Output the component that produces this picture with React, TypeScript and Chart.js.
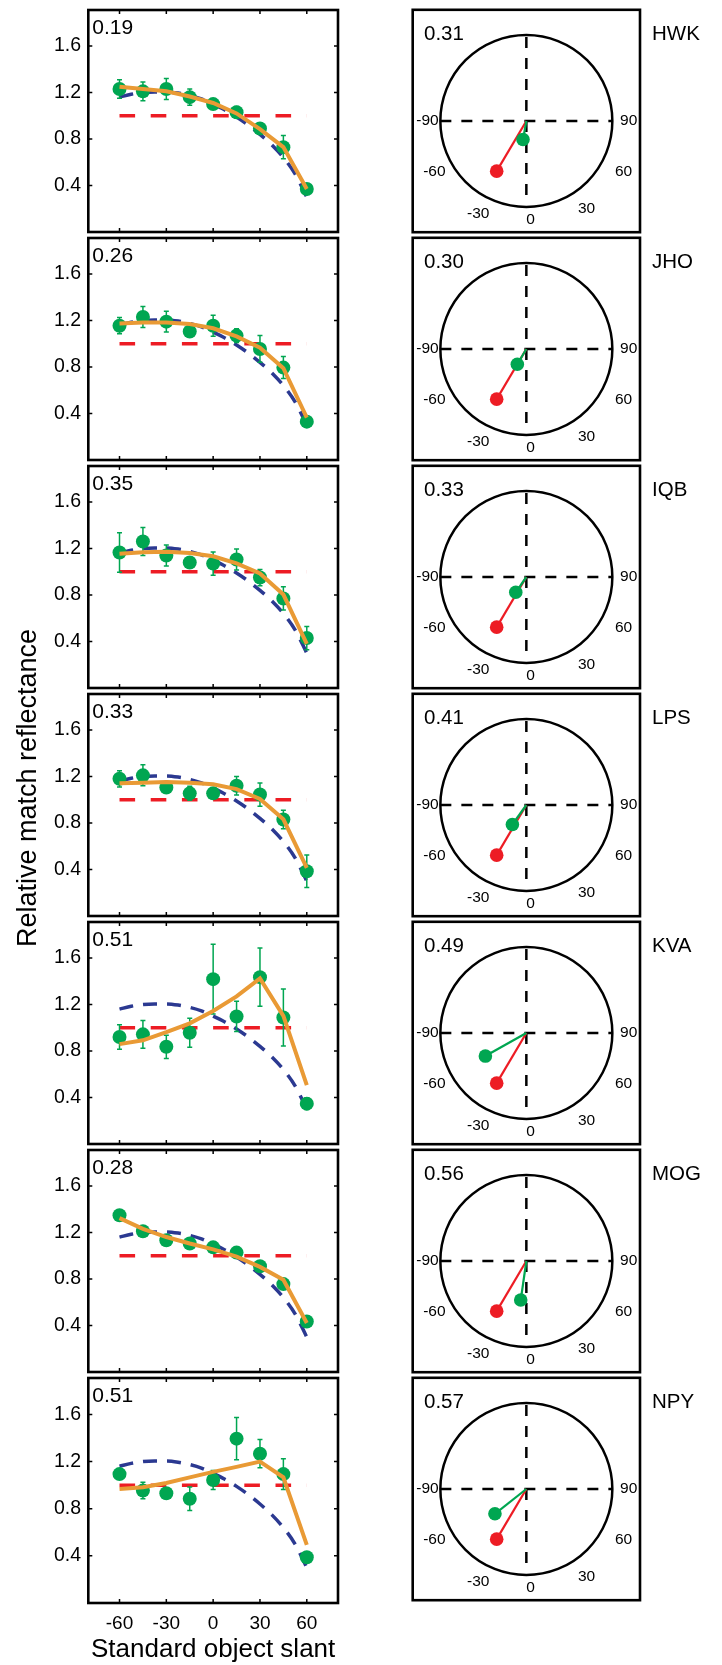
import React, { useEffect, useRef } from "react";
import { Chart, registerables } from "chart.js";

Chart.register(...registerables);

// ---------------- data ----------------
const slants = [-60, -45, -30, -15, 0, 15, 30, 45, 60];
const xTicks = [-60, -30, 0, 30, 60];
const yTicks = [0.4, 0.8, 1.2, 1.6];

const observers = ["HWK", "JHO", "IQB", "LPS", "KVA", "MOG", "NPY"];
const fitIndex = ["0.19", "0.26", "0.35", "0.33", "0.51", "0.28", "0.51"];
const lightIndex = ["0.31", "0.30", "0.33", "0.41", "0.49", "0.56", "0.57"];

// relative match reflectance (mean) and standard error per observer
const matchHWK = [1.23, 1.21, 1.23, 1.16, 1.1, 1.03, 0.89, 0.73, 0.37];
const errHWK = [0.08, 0.08, 0.09, 0.07, 0.03, 0.05, 0.04, 0.1, 0.03];
const fitHWK = [1.25, 1.23, 1.21, 1.165, 1.11, 1.02, 0.885, 0.73, 0.37];

const matchJHO = [1.155, 1.23, 1.19, 1.105, 1.155, 1.07, 0.955, 0.795, 0.33];
const errJHO = [0.07, 0.09, 0.09, 0.04, 0.09, 0.06, 0.115, 0.095, 0.03];
const fitJHO = [1.175, 1.183, 1.183, 1.17, 1.133, 1.063, 0.966, 0.79, 0.365];

const matchIQB = [1.165, 1.26, 1.14, 1.08, 1.07, 1.105, 0.95, 0.77, 0.43];
const errIQB = [0.17, 0.12, 0.09, 0.04, 0.1, 0.09, 0.07, 0.1, 0.1];
const fitIQB = [1.155, 1.167, 1.172, 1.161, 1.133, 1.072, 0.985, 0.804, 0.38];

const matchLPS = [1.18, 1.21, 1.105, 1.055, 1.055, 1.12, 1.045, 0.83, 0.385];
const errLPS = [0.07, 0.09, 0.03, 0.06, 0.03, 0.08, 0.1, 0.08, 0.14];
const fitLPS = [1.141, 1.147, 1.153, 1.147, 1.133, 1.091, 1.007, 0.832, 0.413];

const matchKVA = [0.92, 0.943, 0.836, 0.957, 1.418, 1.097, 1.435, 1.088, 0.347];
const errKVA = [0.105, 0.12, 0.1, 0.125, 0.3, 0.13, 0.25, 0.245, 0.05];
const fitKVA = [0.859, 0.892, 0.962, 1.038, 1.144, 1.27, 1.424, 1.102, 0.506];

const matchMOG = [1.348, 1.211, 1.133, 1.105, 1.072, 1.027, 0.91, 0.756, 0.435];
const errMOG = [0.02, 0.02, 0.02, 0.02, 0.02, 0.02, 0.02, 0.02, 0.02];
const fitMOG = [1.323, 1.231, 1.161, 1.105, 1.055, 0.993, 0.904, 0.793, 0.421];

const matchNPY = [1.094, 0.954, 0.932, 0.885, 1.044, 1.395, 1.267, 1.094, 0.388];
const errNPY = [0.03, 0.07, 0.03, 0.1, 0.08, 0.18, 0.12, 0.13, 0.03];
const fitNPY = [0.968, 0.982, 1.019, 1.066, 1.113, 1.155, 1.2, 1.066, 0.494];

// luminance-constancy reference and physical prediction
const constantSlants = [-60, 60];
const constantLevel = [1, 1];
const physicalSlants = [-60, -52.5, -45, -37.5, -30, -22.5, -15, -7.5, 0, 7.5, 15, 22.5, 30, 37.5, 45, 52.5, 60];
const physicalPrediction = [1.16, 1.185, 1.2, 1.205, 1.205, 1.195, 1.175, 1.145, 1.1, 1.05, 0.99, 0.92, 0.84, 0.75, 0.64, 0.5, 0.3];

// light direction: true punctate source (red) and each observer's estimate (green)
const sourceAngle = [-30, -30, -30, -30, -30, -30, -30];
const sourceStrength = [0.69, 0.69, 0.69, 0.69, 0.69, 0.69, 0.69];
const estimateAngle = [-10, -30, -34, -35, -60, -8, -51];
const estimateStrength = [0.224, 0.21, 0.22, 0.283, 0.55, 0.47, 0.47];
const angleLabels = ["-90", "-60", "-30", "0", "30", "60", "90"];

const matchSeries = [matchHWK, matchJHO, matchIQB, matchLPS, matchKVA, matchMOG, matchNPY];
const errSeries = [errHWK, errJHO, errIQB, errLPS, errKVA, errMOG, errNPY];
const fitSeries = [fitHWK, fitJHO, fitIQB, fitLPS, fitKVA, fitMOG, fitNPY];

// ---------------- styling / layout ----------------
const FONT = "'Liberation Sans', Arial, Helvetica, sans-serif";
const RED = "#ED1C24";
const BLUE = "#2B3991";
const GREEN = "#00A651";
const ORANGE = "#E99A35";

const PANEL_TOP = 7;
const PANEL_H = 228;
const PX_PER_UNIT = 119.4;
const LEFT_CANVAS_W = 345;
const LEFT_AREA_L = 88.3;
const LEFT_AREA_R = 338.3;
const RIGHT_CANVAS_X = 400;
const RIGHT_CANVAS_W = 322;
const RIGHT_AREA_L = 412.7;
const RIGHT_AREA_R = 640;
const DIAL_R = 86;

Chart.defaults.font.family = FONT;

// label anchors around the dial, in dial radii (dx right, dy down)
const angleLabelAnchors: [number, number][] = [
  [-1.15, 0],
  [-1.07, 0.6],
  [-0.56, 1.11],
  [0.05, 1.18],
  [0.7, 1.04],
  [1.13, 0.6],
  [1.19, 0],
];

function toDial(angleDeg: number, r: number) {
  const a = (angleDeg * Math.PI) / 180;
  return { x: r * Math.sin(a), y: -r * Math.cos(a) };
}

const slantPanelPlugin = {
  id: "slantPanel",
  beforeDatasetDraw(chart: any, args: any, opts: any) {
    if (args.index !== 2) return;
    const { ctx, scales } = chart;
    const { x, y } = scales;
    const vals: number[] = opts.match;
    const errs: number[] = opts.err;
    ctx.save();
    ctx.strokeStyle = GREEN;
    ctx.lineWidth = 1.5;
    slants.forEach((s, k) => {
      const px = x.getPixelForValue(s);
      const y1 = y.getPixelForValue(vals[k] - errs[k]);
      const y2 = y.getPixelForValue(vals[k] + errs[k]);
      ctx.beginPath();
      ctx.moveTo(px, y1);
      ctx.lineTo(px, y2);
      ctx.moveTo(px - 2.5, y1);
      ctx.lineTo(px + 2.5, y1);
      ctx.moveTo(px - 2.5, y2);
      ctx.lineTo(px + 2.5, y2);
      ctx.stroke();
    });
    ctx.restore();
  },
  afterDraw(chart: any, _args: any, opts: any) {
    const { ctx, chartArea: a, scales } = chart;
    const { x, y } = scales;
    ctx.save();
    ctx.strokeStyle = "#000";
    ctx.lineWidth = 1.5;
    ctx.beginPath();
    for (const v of yTicks) {
      const py = y.getPixelForValue(v);
      ctx.moveTo(a.left, py);
      ctx.lineTo(a.left + 4, py);
      ctx.moveTo(a.right, py);
      ctx.lineTo(a.right - 4, py);
    }
    for (const v of xTicks) {
      const px = x.getPixelForValue(v);
      ctx.moveTo(px, a.top);
      ctx.lineTo(px, a.top + 4);
      ctx.moveTo(px, a.bottom);
      ctx.lineTo(px, a.bottom - 4);
    }
    ctx.stroke();
    ctx.lineWidth = 2.6;
    ctx.strokeRect(a.left, a.top, a.right - a.left, a.bottom - a.top);
    ctx.fillStyle = "#000";
    ctx.font = `21px ${FONT}`;
    ctx.textAlign = "left";
    ctx.textBaseline = "middle";
    ctx.fillText(opts.index, a.left + 4, a.top + 18.5);
    ctx.restore();
  },
};

const dialPlugin = {
  id: "dial",
  beforeDatasetsDraw(chart: any) {
    const { ctx, scales } = chart;
    const { x, y } = scales;
    const cx = x.getPixelForValue(0);
    const cy = y.getPixelForValue(0);
    const r = x.getPixelForValue(1) - cx;
    ctx.save();
    ctx.strokeStyle = "#000";
    ctx.lineWidth = 2.5;
    ctx.beginPath();
    ctx.arc(cx, cy, r, 0, Math.PI * 2);
    ctx.stroke();
    ctx.setLineDash([11, 10]);
    ctx.beginPath();
    ctx.moveTo(x.getPixelForValue(-1), cy);
    ctx.lineTo(x.getPixelForValue(1), cy);
    ctx.moveTo(cx, y.getPixelForValue(1));
    ctx.lineTo(cx, y.getPixelForValue(-1));
    ctx.stroke();
    ctx.setLineDash([]);
    ctx.fillStyle = "#000";
    ctx.font = `15.5px ${FONT}`;
    ctx.textAlign = "center";
    ctx.textBaseline = "middle";
    angleLabels.forEach((t, k) => {
      const [dx, dy] = angleLabelAnchors[k];
      ctx.fillText(t, x.getPixelForValue(dx), y.getPixelForValue(-dy));
    });
    ctx.restore();
  },
  afterDraw(chart: any, _args: any, opts: any) {
    const { ctx, chartArea: a } = chart;
    ctx.save();
    ctx.strokeStyle = "#000";
    ctx.lineWidth = 2.6;
    ctx.strokeRect(a.left, a.top, a.right - a.left, a.bottom - a.top);
    ctx.fillStyle = "#000";
    ctx.font = `20.5px ${FONT}`;
    ctx.textAlign = "left";
    ctx.textBaseline = "middle";
    ctx.fillText(opts.index, a.left + 11.3, a.top + 24.5);
    ctx.fillText(opts.name, a.right + 12, a.top + 24.5);
    ctx.restore();
  },
};

function slantConfig(i: number, canvasTop: number, canvasH: number, isBottom: boolean): any {
  const panelTop = PANEL_TOP + PANEL_H * i;
  const padTop = panelTop - canvasTop;
  const xAxisH = isBottom ? canvasTop + canvasH - (panelTop + PANEL_H) : 0;
  const padBottom = isBottom ? 0 : canvasH - padTop - PANEL_H;
  return {
    type: "line",
    data: {
      datasets: [
        {
          label: "Constancy",
          data: constantSlants.map((s, k) => ({ x: s, y: constantLevel[k] })),
          borderColor: RED,
          borderWidth: 3.5,
          borderDash: [15.6, 15.6],
          pointRadius: 0,
          order: 5,
        },
        {
          label: "Physical",
          data: physicalSlants.map((s, k) => ({ x: s, y: physicalPrediction[k] })),
          borderColor: BLUE,
          borderWidth: 3.5,
          borderDash: [14, 10],
          pointRadius: 0,
          cubicInterpolationMode: "monotone",
          order: 4,
        },
        {
          label: "Match",
          data: slants.map((s, k) => ({ x: s, y: matchSeries[i][k] })),
          showLine: false,
          pointRadius: 7,
          pointBackgroundColor: GREEN,
          pointBorderWidth: 0,
          order: 2,
        },
        {
          label: "Model",
          data: slants.map((s, k) => ({ x: s, y: fitSeries[i][k] })),
          borderColor: ORANGE,
          borderWidth: 4,
          pointRadius: 0,
          order: 1,
        },
      ],
    },
    options: {
      animation: false,
      responsive: false,
      events: [],
      layout: { padding: { top: padTop, bottom: padBottom, left: 0, right: LEFT_CANVAS_W - LEFT_AREA_R } },
      plugins: {
        legend: { display: false },
        tooltip: { enabled: false },
        slantPanel: { index: fitIndex[i], match: matchSeries[i], err: errSeries[i] },
      },
      scales: {
        x: {
          type: "linear",
          min: -80,
          max: 80,
          display: isBottom,
          afterBuildTicks: (sc: any) => {
            sc.ticks = xTicks.map((v) => ({ value: v }));
          },
          afterFit: (sc: any) => {
            sc.height = xAxisH;
            sc.paddingLeft = 0;
            sc.paddingRight = 0;
          },
          grid: { display: false, drawTicks: false },
          border: { display: false },
          ticks: {
            font: { size: 19, family: FONT },
            color: "#000",
            padding: 9,
            maxRotation: 0,
            autoSkip: false,
            callback: (v: any) => String(v),
          },
          title: {
            display: true,
            text: "Standard object slant",
            font: { size: 26, family: FONT },
            color: "#000",
            padding: { top: 0, bottom: 0 },
          },
        },
        y: {
          type: "linear",
          min: 0,
          max: PANEL_H / PX_PER_UNIT,
          afterBuildTicks: (sc: any) => {
            sc.ticks = yTicks.map((v) => ({ value: v }));
          },
          afterFit: (sc: any) => {
            sc.width = LEFT_AREA_L;
            sc.paddingTop = 0;
            sc.paddingBottom = 0;
          },
          grid: { display: false, drawTicks: false },
          border: { display: false },
          ticks: {
            font: { size: 19.5, family: FONT },
            color: "#000",
            padding: 7.3,
            callback: (v: any) => Number(v).toFixed(1),
          },
        },
      },
    },
    plugins: [slantPanelPlugin],
  };
}

function dialConfig(i: number, canvasTop: number, canvasH: number): any {
  const panelTop = PANEL_TOP + PANEL_H * i;
  const padTop = panelTop - canvasTop;
  const padBottom = canvasH - padTop - PANEL_H;
  const src = toDial(sourceAngle[i], sourceStrength[i]);
  const est = toDial(estimateAngle[i], estimateStrength[i]);
  const halfW = (RIGHT_AREA_R - RIGHT_AREA_L) / 2 / DIAL_R;
  const halfH = PANEL_H / 2 / DIAL_R;
  return {
    type: "scatter",
    data: {
      datasets: [
        { data: [{ x: 0, y: 0 }, src], showLine: true, borderColor: RED, borderWidth: 2.2, pointRadius: 0, order: 4 },
        { data: [{ x: 0, y: 0 }, est], showLine: true, borderColor: GREEN, borderWidth: 2.2, pointRadius: 0, order: 3 },
        { data: [src], pointRadius: 6.8, pointBackgroundColor: RED, pointBorderWidth: 0, order: 2 },
        { data: [est], pointRadius: 6.8, pointBackgroundColor: GREEN, pointBorderWidth: 0, order: 1 },
      ],
    },
    options: {
      animation: false,
      responsive: false,
      events: [],
      layout: {
        padding: {
          top: padTop,
          bottom: padBottom,
          left: RIGHT_AREA_L - RIGHT_CANVAS_X,
          right: RIGHT_CANVAS_X + RIGHT_CANVAS_W - RIGHT_AREA_R,
        },
      },
      plugins: {
        legend: { display: false },
        tooltip: { enabled: false },
        dial: { index: lightIndex[i], name: observers[i] },
      },
      scales: {
        x: { type: "linear", min: -halfW, max: halfW, display: false },
        y: { type: "linear", min: -halfH, max: halfH, display: false },
      },
    },
    plugins: [dialPlugin],
  };
}

function ChartCanvas({ left, top, width, height, build }: any) {
  const ref = useRef<HTMLCanvasElement>(null);
  useEffect(() => {
    const chart = new Chart(ref.current as HTMLCanvasElement, build());
    return () => chart.destroy();
  }, []);
  return (
    <canvas
      ref={ref}
      width={width}
      height={height}
      style={{ position: "absolute", left, top, width, height }}
    />
  );
}

export default function App() {
  const panels = observers.map((_, i) => {
    const panelTop = PANEL_TOP + PANEL_H * i;
    const canvasTop = Math.floor(panelTop) - 4;
    const isBottom = i === observers.length - 1;
    const leftH = isBottom ? 1665 - canvasTop : 236;
    return (
      <React.Fragment key={i}>
        <ChartCanvas
          left={0}
          top={canvasTop}
          width={LEFT_CANVAS_W}
          height={leftH}
          build={() => slantConfig(i, canvasTop, leftH, isBottom)}
        />
        <ChartCanvas
          left={RIGHT_CANVAS_X}
          top={canvasTop}
          width={RIGHT_CANVAS_W}
          height={236}
          build={() => dialConfig(i, canvasTop, 236)}
        />
      </React.Fragment>
    );
  });
  return (
    <div
      style={{
        position: "absolute",
        left: 0,
        top: 0,
        width: 722,
        height: 1665,
        background: "#fff",
        overflow: "hidden",
        fontFamily: FONT,
      }}
    >
      {panels}
      <div
        style={{
          position: "absolute",
          left: 27 - 200,
          top: 788 - 16,
          width: 400,
          height: 32,
          lineHeight: "32px",
          fontSize: 27,
          textAlign: "center",
          color: "#000",
          transform: "rotate(-90deg)",
          whiteSpace: "nowrap",
        }}
      >
        Relative match reflectance
      </div>
    </div>
  );
}
